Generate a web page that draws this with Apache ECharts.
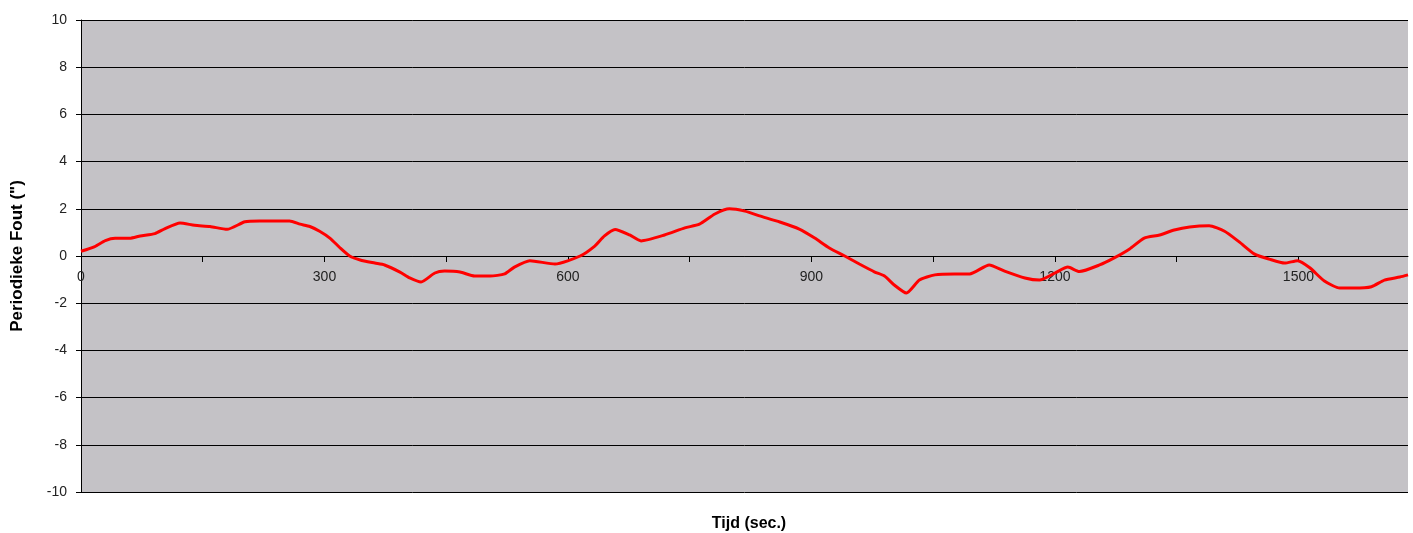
<!DOCTYPE html>
<html>
<head>
<meta charset="utf-8">
<script src="https://cdn.jsdelivr.net/npm/echarts@6/dist/echarts.min.js"></script>
<style>html,body{margin:0;padding:0;background:#fff}#c{width:1413px;height:533px}</style>
</head>
<body>
<div id="c"></div>
<script>
var timeValues = [0,17,30,42,60,73,91,103,122,140,159,180,202,220,257,270,282,294,307,319,331,344,362,374,393,405,419,436,448,467,485,504,522,534,553,584,615,633,645,658,676,690,719,744,762,781,799,818,836,861,885,904,922,941,959,978,990,1002,1017,1033,1052,1076,1095,1119,1138,1163,1181,1200,1216,1230,1255,1273,1292,1310,1329,1347,1366,1390,1409,1427,1446,1464,1483,1499,1514,1532,1551,1569,1590,1606,1625,1635];
var errorValues = [0.2,0.4,0.65,0.75,0.75,0.85,0.95,1.15,1.4,1.3,1.25,1.13,1.45,1.48,1.48,1.35,1.25,1.05,0.75,0.35,0,-0.17,-0.3,-0.38,-0.68,-0.93,-1.1,-0.72,-0.64,-0.68,-0.85,-0.85,-0.76,-0.47,-0.2,-0.34,0,0.42,0.85,1.12,0.89,0.64,0.89,1.19,1.35,1.78,2.0,1.9,1.7,1.44,1.14,0.76,0.34,0,-0.34,-0.68,-0.85,-1.23,-1.57,-1.02,-0.8,-0.76,-0.76,-0.38,-0.64,-0.93,-1.02,-0.72,-0.47,-0.66,-0.38,-0.08,0.3,0.76,0.89,1.1,1.23,1.28,1.05,0.6,0.08,-0.13,-0.3,-0.2,-0.5,-1.06,-1.36,-1.36,-1.3,-1.02,-0.89,-0.8];
var xLabelStep = 300;
var seriesData = timeValues.map(function(t, i){ return [t, errorValues[i]]; });

var chart = echarts.init(document.getElementById('c'));
chart.setOption({
  animation: false,
  title: {
    text: 'Tijd (sec.)',
    left: 744, top: 511, textAlign: 'center',
    textStyle: {fontFamily: 'Arial, Liberation Sans', fontSize: 16, fontWeight: 'bold', color: '#000'}
  },
  grid: {left: 81, right: 5, top: 20, bottom: 41, show: true, backgroundColor: '#c4c2c6', borderWidth: 0},
  xAxis: {
    type: 'value', min: 0, max: 1635, interval: 150,
    position: 'bottom', offset: -236,
    axisLine: {onZero: false, lineStyle: {color: '#000', width: 1}},
    axisTick: {show: true, length: 6, lineStyle: {color: '#000'}},
    splitLine: {show: false},
    axisLabel: {
      margin: 14, fontFamily: 'Arial, Liberation Sans', fontSize: 14, color: '#222',
      showMaxLabel: false,
      formatter: function(v){ return (v % xLabelStep === 0) ? String(v) : ''; }
    }
  },
  yAxis: {
    type: 'value', min: -10, max: 10, interval: 2,
    name: 'Periodieke Fout (")', nameLocation: 'middle', nameGap: 55,
    nameTextStyle: {fontFamily: 'Arial, Liberation Sans', fontSize: 17, fontWeight: 'bold', color: '#000'},
    axisLine: {show: true, onZero: false, lineStyle: {color: '#000', width: 1}},
    axisTick: {show: true, length: 5, lineStyle: {color: '#000'}},
    splitLine: {show: true, lineStyle: {color: '#000', width: 1}},
    axisLabel: {margin: 14, fontFamily: 'Arial, Liberation Sans', fontSize: 14, color: '#222'}
  },
  series: [{
    type: 'line', data: seriesData, showSymbol: false, smooth: 0.2,
    lineStyle: {color: '#ff0000', width: 3}, z: 5
  }]
});
</script>
</body>
</html>
